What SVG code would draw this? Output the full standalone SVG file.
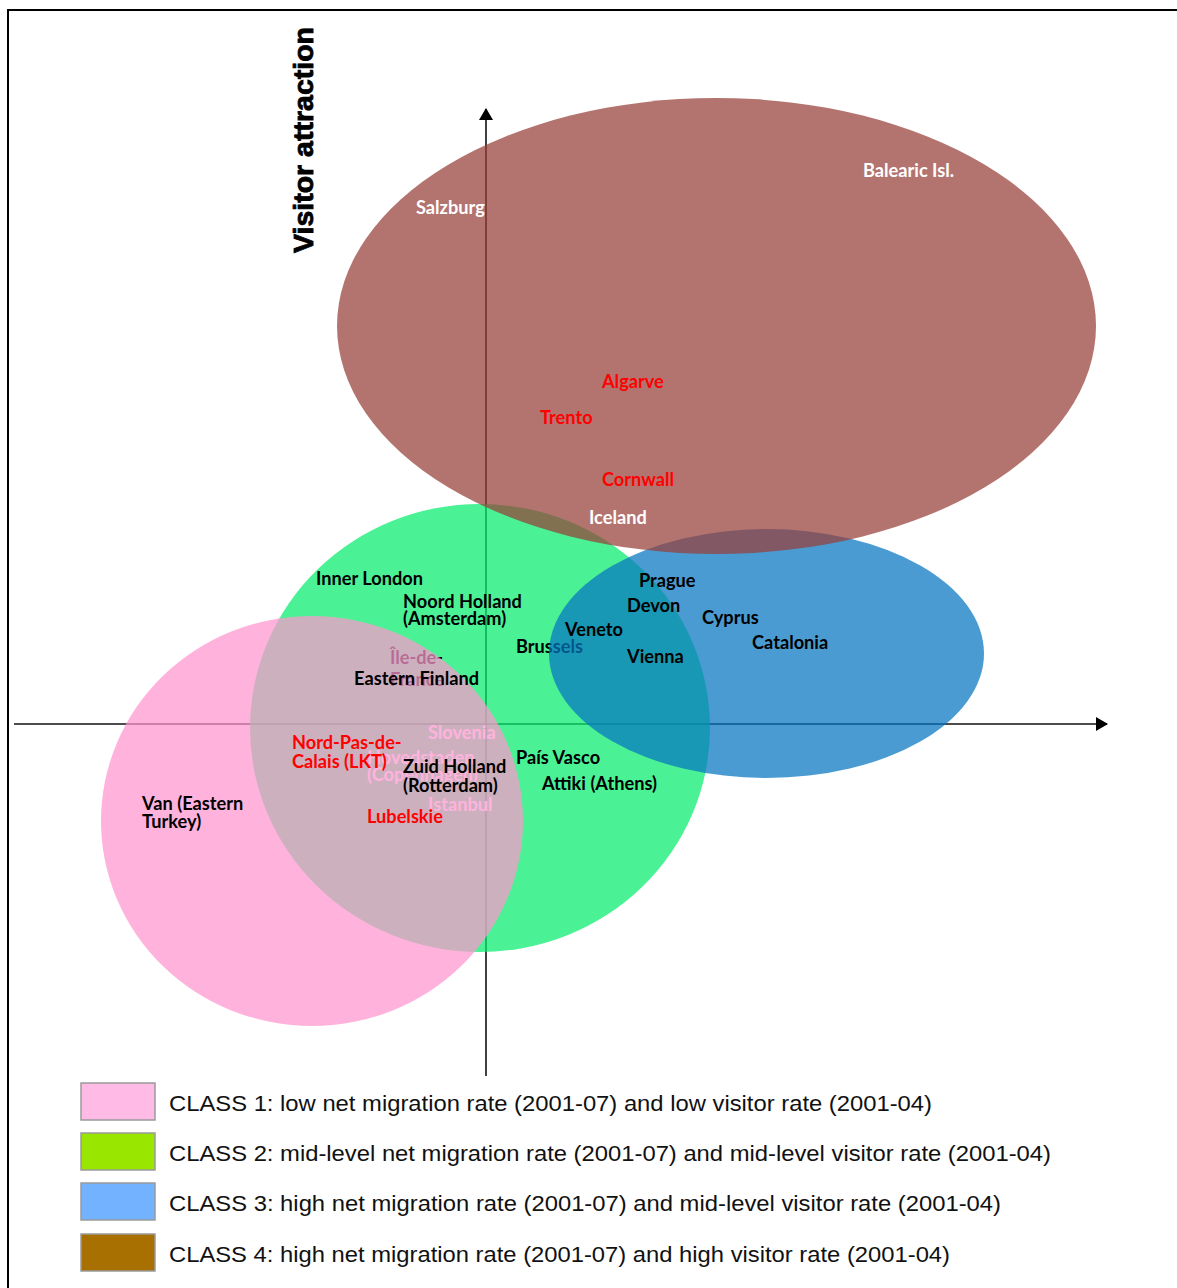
<svg xmlns="http://www.w3.org/2000/svg" width="1177" height="1288" viewBox="0 0 1177 1288">
<style>
.lbl{font-family:Lato,"Liberation Sans",sans-serif;font-weight:bold;font-size:18.2px}
.k{fill:#000}
.w{fill:#fff}
.r{fill:#ff0000}
.leg{font-family:"Liberation Sans",Arial,sans-serif;font-size:21.5px;fill:#111}
.box{stroke:#9a9a9a;stroke-width:1.5}
.ax{stroke:#111;stroke-width:1.6;fill:none}
</style>
<defs>
<marker id="arr" viewBox="0 0 12 14" refX="11" refY="7" markerWidth="12" markerHeight="14" markerUnits="userSpaceOnUse" orient="auto">
<path d="M0,0 L12,7 L0,14 z" fill="#000"/>
</marker>
</defs>
<rect width="1177" height="1288" fill="#fff"/>
<path d="M8,1288 V10 H1177" fill="none" stroke="#000" stroke-width="2"/>
<g id="connectors">
<line class="ax" x1="486" y1="1076" x2="486" y2="109" marker-end="url(#arr)"/>
<line class="ax" x1="14" y1="724" x2="1107" y2="724" marker-end="url(#arr)"/>
</g>
<g id="class2">
<ellipse cx="480" cy="728" rx="230" ry="224" fill="rgb(6,237,108)" fill-opacity="0.72"/>
</g>
<g id="under-labels" class="lbl" transform="translate(0,1)">
<text class="k" x="390" y="663">Île-de-</text>
<text class="k" x="390" y="685">France</text>
<text class="w" x="428" y="738">Slovenia</text>
<text class="w" x="367" y="763">Hovedstaden</text>
<text class="w" x="367" y="780">(Copenhagen)</text>
<text class="w" x="428" y="810">Istanbul</text>
<text class="k" x="516" y="652">Brussels</text>
</g>
<g id="class1">
<ellipse cx="312" cy="821" rx="211" ry="205" fill="rgb(255,149,206)" fill-opacity="0.72"/>
</g>
<g id="class3">
<ellipse cx="766.5" cy="653.5" rx="217.5" ry="124.5" fill="rgb(5,117,194)" fill-opacity="0.72"/>
</g>
<g id="class4">
<ellipse cx="716.5" cy="326" rx="379.5" ry="228" fill="rgb(149,63,56)" fill-opacity="0.72"/>
</g>
<g id="labels" class="lbl" transform="translate(0,1)">
<text class="w" x="863" y="176">Balearic Isl.</text>
<text class="w" x="416" y="213">Salzburg</text>
<text class="r" x="602" y="387">Algarve</text>
<text class="r" x="540" y="423">Trento</text>
<text class="r" x="602" y="485">Cornwall</text>
<text class="w" x="589" y="523">Iceland</text>
<text class="k" x="316" y="584">Inner London</text>
<text class="k" x="403" y="607">Noord Holland</text>
<text class="k" x="403" y="624">(Amsterdam)</text>
<text class="k" x="639" y="586">Prague</text>
<text class="k" x="627" y="611">Devon</text>
<text class="k" x="702" y="623">Cyprus</text>
<text class="k" x="565" y="635">Veneto</text>
<text class="k" x="752" y="648">Catalonia</text>
<text class="k" x="627" y="662">Vienna</text>
<text class="k" x="354" y="684">Eastern Finland</text>
<text class="r" x="292" y="748">Nord-Pas-de-</text>
<text class="r" x="292" y="767">Calais (LKT)</text>
<text class="k" x="403" y="772">Zuid Holland</text>
<text class="k" x="403" y="791">(Rotterdam)</text>
<text class="r" x="367" y="822">Lubelskie</text>
<text class="k" x="516" y="763">País Vasco</text>
<text class="k" x="542" y="789">Attiki (Athens)</text>
<text class="k" x="142" y="809">Van (Eastern</text>
<text class="k" x="142" y="827">Turkey)</text>
</g>
<g id="axis-title">
<text x="0" y="0" transform="translate(313,140) rotate(-90)" text-anchor="middle" textLength="226" lengthAdjust="spacingAndGlyphs" style="font-family:'Liberation Sans',Arial,sans-serif;font-weight:bold;font-size:28px;fill:#000;stroke:#000;stroke-width:0.8">Visitor attraction</text>
</g>
<g id="legend">
<g id="legend-1"><rect class="box" x="81" y="1083" width="74" height="37" fill="#ffbbe6"/><text class="leg" x="169" y="1111" textLength="763" lengthAdjust="spacingAndGlyphs">CLASS 1: low net migration rate (2001-07) and low visitor rate (2001-04)</text></g>
<g id="legend-2"><rect class="box" x="81" y="1133" width="74" height="37" fill="#99e600"/><text class="leg" x="169" y="1161" textLength="882" lengthAdjust="spacingAndGlyphs">CLASS 2: mid-level net migration rate (2001-07) and mid-level visitor rate (2001-04)</text></g>
<g id="legend-3"><rect class="box" x="81" y="1183" width="74" height="37" fill="#73b2ff"/><text class="leg" x="169" y="1211" textLength="832" lengthAdjust="spacingAndGlyphs">CLASS 3: high net migration rate (2001-07) and mid-level visitor rate (2001-04)</text></g>
<g id="legend-4"><rect class="box" x="81" y="1234" width="74" height="37" fill="#a87000"/><text class="leg" x="169" y="1262" textLength="781" lengthAdjust="spacingAndGlyphs">CLASS 4: high net migration rate (2001-07) and high visitor rate (2001-04)</text></g>
</g>
</svg>
